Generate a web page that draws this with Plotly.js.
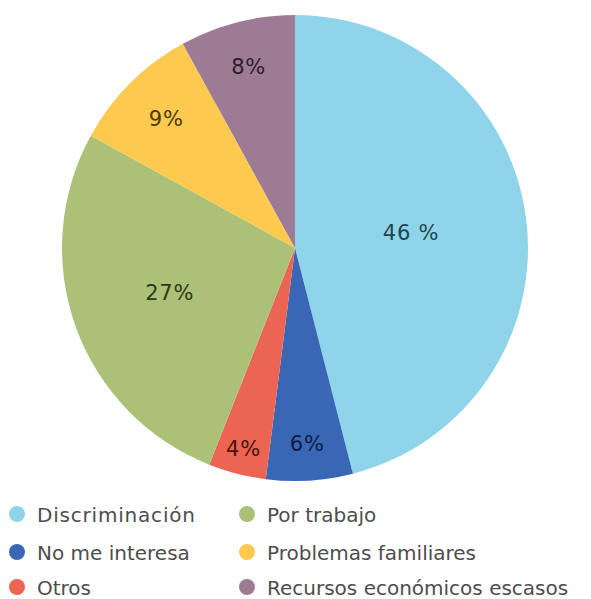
<!DOCTYPE html>
<html>
<head>
<meta charset="utf-8">
<script src="https://cdn.plot.ly/plotly-3.0.1.min.js"></script>
<style>
html,body{margin:0;padding:0;background:#fff;}
#chart{width:591px;height:599px;}
#chart .legendtext{letter-spacing:0.8px;}
#chart .slicetext{letter-spacing:0.8px;}
</style>
</head>
<body>
<div id="chart"></div>
<script>
// Slices in drawing order (clockwise from top)
const categories = ["Discriminación", "No me interesa", "Otros", "Por trabajo", "Problemas familiares", "Recursos económicos escasos"];
const values = [46, 6, 4, 27, 9, 8];
const sliceLabels = ["46 %", "6%", "4%", "27%", "9%", "8%"];
const sliceColors = ["#8fd4e8", "#3a67b5", "#ec6553", "#abc178", "#fdc94f", "#9e7b95"];
const labelColors = ["#1d4652", "#0e1c44", "#4a120d", "#2d3a17", "#4a3a0c", "#2c1c2a"];
// Legend layout order (rows: left, right)
const legendOrder = ["Discriminación", "Por trabajo", "No me interesa", "Problemas familiares", "Otros", "Recursos económicos escasos"];

const FONT = "DejaVu Sans, sans-serif";

const pie = {
  type: "pie",
  labels: categories,
  values: values,
  text: sliceLabels,
  textinfo: "text",
  textposition: "inside",
  insidetextorientation: "horizontal",
  sort: false,
  direction: "clockwise",
  rotation: 0,
  marker: {colors: sliceColors, line: {width: 0}},
  textfont: {family: FONT, size: 21, color: labelColors},
  showlegend: false,
  domain: {x: [62/591, 528/591], y: [118/599, 584/599]},
  hoverinfo: "label+percent"
};

const legendNames = ["legend", "legend2", "legend3", "legend4", "legend5", "legend6"];

const legendTraces = legendOrder.map((name, i) => {
  const idx = categories.indexOf(name);
  return {
    type: "scatter",
    mode: "markers",
    x: [null], y: [null],
    name: name,
    marker: {color: sliceColors[idx], size: 16, symbol: "circle"},
    legend: legendNames[i],
    showlegend: true,
    hoverinfo: "skip"
  };
});

function legendAt(xPix, yPix, w) {
  return {
    orientation: "h",
    x: xPix / 591, xanchor: "left",
    y: (599 - yPix) / 599, yanchor: "middle",
    entrywidth: w, entrywidthmode: "pixels",
    font: {family: FONT, size: 20, color: "#4d4d4d"},
    bgcolor: "rgba(0,0,0,0)",
    itemclick: false, itemdoubleclick: false
  };
}

const layout = {
  width: 591, height: 599,
  margin: {l: 0, r: 0, t: 0, b: 0, autoexpand: false},
  paper_bgcolor: "#ffffff",
  plot_bgcolor: "#ffffff",
  xaxis: {visible: false},
  yaxis: {visible: false},
  showlegend: true
};
const rowsY = [514, 552, 587];
const colsX = [-3, 227];
const colsW = [200, 330];
legendNames.forEach((ln, i) => {
  layout[ln] = legendAt(colsX[i % 2], rowsY[Math.floor(i / 2)], colsW[i % 2]);
});

Plotly.newPlot("chart", [pie].concat(legendTraces), layout, {displayModeBar: false, staticPlot: true});
</script>
</body>
</html>
